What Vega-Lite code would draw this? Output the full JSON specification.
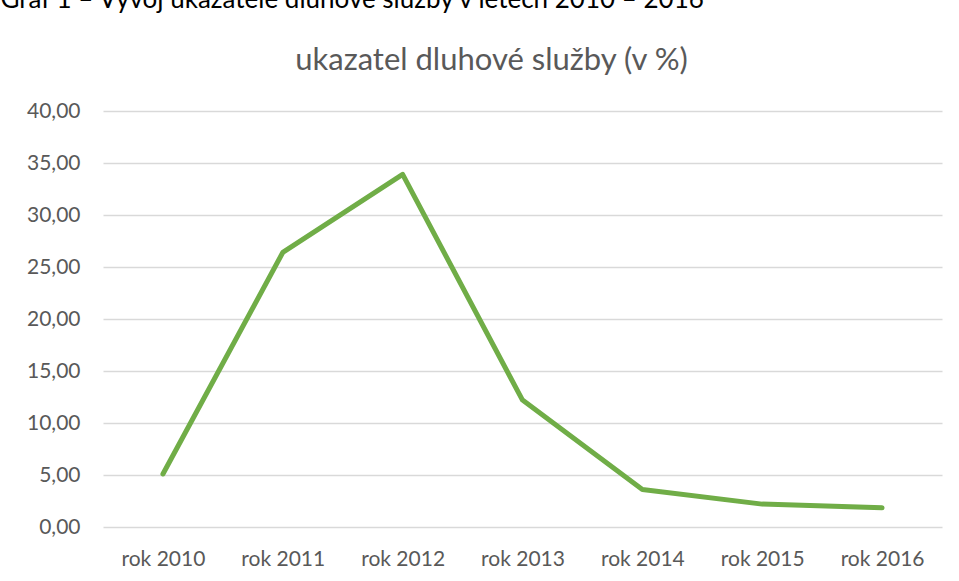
{
  "$schema": "https://vega.github.io/schema/vega-lite/v6.json",
  "autosize": {"type": "none"},
  "width": 839,
  "height": 416,
  "padding": {"left": 103, "top": 111, "right": 17, "bottom": 54},
  "background": "white",
  "config": {
    "font": "Lato",
    "view": {"stroke": null}
  },
  "data": {
    "values": [
      {"rok": "rok 2010", "hodnota": 5.1},
      {"rok": "rok 2011", "hodnota": 26.4},
      {"rok": "rok 2012", "hodnota": 33.9},
      {"rok": "rok 2013", "hodnota": 12.2},
      {"rok": "rok 2014", "hodnota": 3.6},
      {"rok": "rok 2015", "hodnota": 2.2},
      {"rok": "rok 2016", "hodnota": 1.85}
    ]
  },
  "mark": {"type": "line", "color": "#70AD47", "strokeWidth": 5, "strokeCap": "round", "strokeJoin": "round"},
  "encoding": {
    "x": {
      "field": "rok",
      "type": "ordinal",
      "sort": null,
      "scale": {"padding": 0.5},
      "axis": {
        "title": "ukazatel dluhové služby (v %)",
        "titleFont": "Lato",
        "titleFontSize": 31,
        "titleFontWeight": "normal",
        "titleColor": "#595959",
        "titleAlign": "center",
        "titleBaseline": "alphabetic",
        "titleAnchor": null,
        "titleX": 388,
        "titleY": -458,
        "labelAngle": 0,
        "labelFontSize": 21,
        "labelColor": "#595959",
        "labelPadding": 21,
        "ticks": false,
        "domain": false,
        "grid": false
      }
    },
    "y": {
      "field": "hodnota",
      "type": "quantitative",
      "scale": {"domain": [0, 40], "nice": false},
      "axis": {
        "title": "Graf 1 – Vývoj ukazatele dluhové služby v letech 2010 – 2016",
        "titleFont": "Lato",
        "titleFontSize": 26,
        "titleFontWeight": "normal",
        "titleColor": "#000000",
        "titleAngle": 0,
        "titleAlign": "left",
        "titleBaseline": "alphabetic",
        "titleAnchor": null,
        "titleX": -103,
        "titleY": -104,
        "values": [0, 5, 10, 15, 20, 25, 30, 35, 40],
        "labelExpr": "replace(format(datum.value, '.2f'), '.', ',')",
        "labelFontSize": 21,
        "labelColor": "#595959",
        "labelPadding": 23,
        "ticks": false,
        "domain": false,
        "grid": true,
        "gridColor": "#d9d9d9",
        "gridWidth": 1.5
      }
    }
  }
}
